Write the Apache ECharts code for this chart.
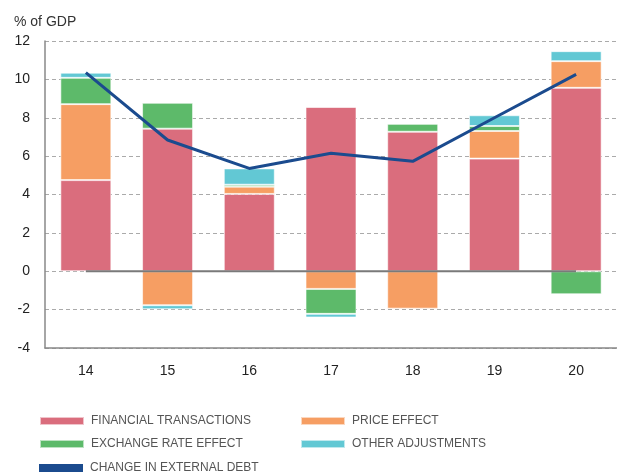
<!DOCTYPE html>
<html>
<head>
<meta charset="utf-8">
<script src="https://cdn.jsdelivr.net/npm/echarts@6/dist/echarts.min.js"></script>
<style>
  html, body { margin: 0; padding: 0; background: #fff; }
  #chart { width: 617px; height: 472px; }
</style>
</head>
<body>
<div id="chart"></div>
<script>
const years = ['14', '15', '16', '17', '18', '19', '20']
// components of the change, % of GDP
const financialTransactions = [4.75, 7.43, 4.03, 8.56, 7.27, 5.87, 9.56]
const priceEffect = [3.96, -1.77, 0.38, -0.92, -1.95, 1.44, 1.39]
const exchangeRateEffect = [1.37, 1.35, 0.10, -1.30, 0.42, 0.26, -1.20]
const otherAdjustments = [0.27, -0.21, 0.85, -0.19, 0, 0.56, 0.52]
const changeInExternalDebt = [10.35, 6.84, 5.36, 6.15, 5.73, 8.0, 10.26]
const zeroLine = [0, 0, 0, 0, 0, 0, 0]

const colors = {
  fin: '#DA6D7D',
  price: '#F69E63',
  fx: '#5DBA6A',
  other: '#62C8D4',
  line: '#1B4B8E'
}

const myChart = echarts.init(document.getElementById('chart'))

const barStyle = (c) => ({
  color: c,
  borderColor: 'rgba(255,255,255,0.6)',
  borderWidth: 1
})

// one legend per entry so the layout matches the two-column block
const legendItem = (name, left, top) => ({
  left: left,
  top: top,
  padding: 0,
  itemWidth: 44,
  itemHeight: 8,
  itemGap: 0,
  icon: 'rect',
  textStyle: { color: '#555', fontSize: 12, padding: [0, 0, 0, 2], fontFamily: 'Liberation Sans, Arial, sans-serif' },
  data: [name]
})

const option = {
  animation: false,
  textStyle: { fontFamily: 'Liberation Sans, Arial, sans-serif' },
  graphic: [{
    type: 'text',
    left: 14,
    top: 15,
    style: { text: '% of GDP', fontSize: 14, fill: '#333', fontFamily: 'Liberation Sans, Arial, sans-serif' }
  }],
  legend: [
    legendItem('FINANCIAL TRANSACTIONS', 39, 415),
    legendItem('EXCHANGE RATE EFFECT', 39, 438),
    legendItem('CHANGE IN EXTERNAL DEBT', 39, 462),
    legendItem('PRICE EFFECT', 300, 415),
    legendItem('OTHER ADJUSTMENTS', 300, 438)
  ],
  grid: { left: 45, right: -4, top: 41, bottom: 124, containLabel: false },
  xAxis: {
    type: 'category',
    data: years,
    axisLine: { onZero: false, lineStyle: { color: '#888', width: 1.5 } },
    axisTick: { inside: true, length: 5, lineStyle: { color: '#aaa' } },
    axisLabel: { color: '#222', fontSize: 14, margin: 16 }
  },
  yAxis: {
    type: 'value',
    min: -4,
    max: 12,
    interval: 2,
    axisLine: { show: true, lineStyle: { color: '#888', width: 1.5 } },
    axisTick: { show: false },
    axisLabel: { color: '#222', fontSize: 14, margin: 15 },
    splitLine: { lineStyle: { color: '#aaa', type: [4, 3] } }
  },
  series: [
    { name: 'FINANCIAL TRANSACTIONS', type: 'bar', stack: 'a', barWidth: 51, data: financialTransactions, itemStyle: barStyle(colors.fin) },
    { name: 'PRICE EFFECT', type: 'bar', stack: 'a', data: priceEffect, itemStyle: barStyle(colors.price) },
    { name: 'EXCHANGE RATE EFFECT', type: 'bar', stack: 'a', data: exchangeRateEffect, itemStyle: barStyle(colors.fx) },
    { name: 'OTHER ADJUSTMENTS', type: 'bar', stack: 'a', data: otherAdjustments, itemStyle: barStyle(colors.other) },
    {
      name: 'zero',
      type: 'line',
      data: zeroLine,
      symbol: 'none',
      silent: true,
      z: 3,
      lineStyle: { color: '#7a7a7a', width: 2 }
    },
    {
      name: 'CHANGE IN EXTERNAL DEBT',
      type: 'line',
      data: changeInExternalDebt,
      symbol: 'none',
      z: 4,
      itemStyle: { color: colors.line },
      lineStyle: { color: colors.line, width: 3 }
    }
  ]
}

myChart.setOption(option)
</script>
</body>
</html>
